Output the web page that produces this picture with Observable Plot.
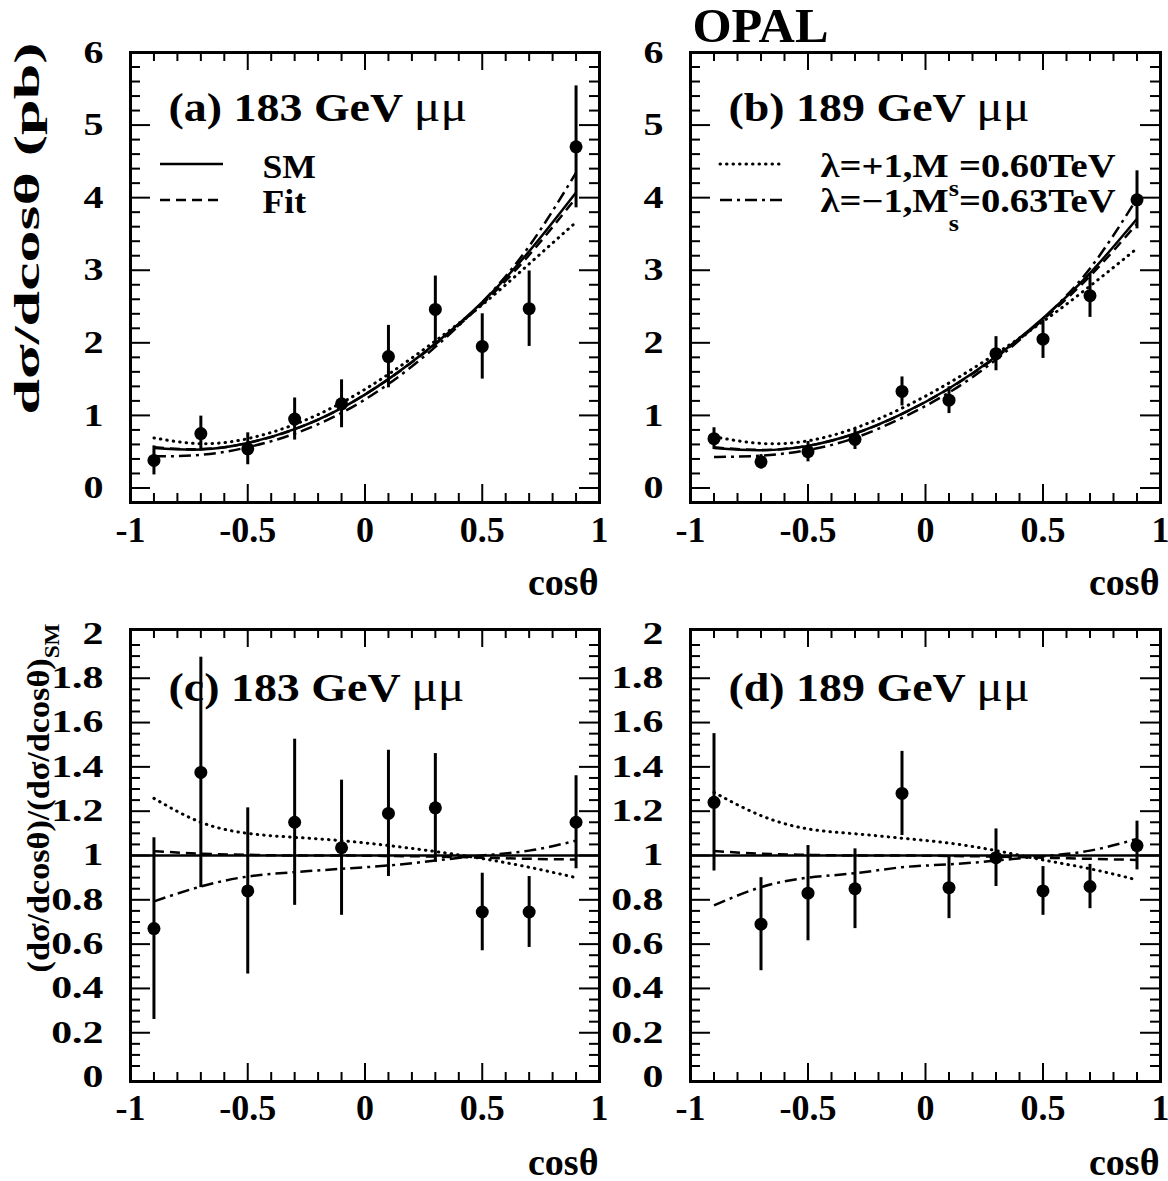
<!DOCTYPE html>
<html><head><meta charset="utf-8">
<script src="https://cdn.jsdelivr.net/npm/d3@7"></script>
<script src="https://cdn.jsdelivr.net/npm/@observablehq/plot@0.6"></script>
<style>
body{margin:0;background:#fff;}
#chart{position:relative;width:1168px;height:1181px;background:#fff;overflow:hidden;}
.panel{position:absolute;}
</style></head><body><div id="chart"></div>
<script>
// ---------------- data ----------------
const cosTheta = [-0.9, -0.7, -0.5, -0.3, -0.1, 0.1, 0.3, 0.5, 0.7, 0.9];

// measured differential cross-sections (pb)
const xs183  = [0.38, 0.75, 0.54, 0.95, 1.16, 1.81, 2.46, 1.95, 2.47, 4.70];
const err183 = [0.20, 0.24, 0.22, 0.29, 0.33, 0.43, 0.46, 0.45, 0.52, 0.84];
const xs189  = [0.68, 0.36, 0.50, 0.67, 1.33, 1.21, 1.85, 2.05, 2.65, 3.97];
const err189 = [0.15, 0.10, 0.14, 0.14, 0.20, 0.185, 0.235, 0.265, 0.30, 0.40];

// curves, 183 GeV
const sm183    = [0.55, 0.53, 0.62, 0.81, 1.10, 1.50, 1.99, 2.56, 3.26, 4.07];
const fit183   = [0.56, 0.535, 0.62, 0.81, 1.10, 1.50, 1.98, 2.535, 3.21, 4.00];
const plus183  = [0.69, 0.61, 0.68, 0.876, 1.174, 1.567, 2.026, 2.524, 3.087, 3.663];
const minus183 = [0.436, 0.456, 0.561, 0.749, 1.034, 1.433, 1.944, 2.56, 3.332, 4.343];
// curves, 189 GeV
const sm189    = [0.55, 0.52, 0.58, 0.75, 1.02, 1.37, 1.81, 2.34, 2.96, 3.71];
const fit189   = [0.56, 0.525, 0.58, 0.75, 1.02, 1.37, 1.80, 2.32, 2.92, 3.64];
const plus189  = [0.707, 0.614, 0.65, 0.824, 1.10, 1.447, 1.85, 2.293, 2.782, 3.30];
const minus189 = [0.426, 0.446, 0.522, 0.69, 0.966, 1.315, 1.768, 2.333, 3.025, 3.988];

// ratios to SM
const r183     = [0.67, 1.375, 0.84, 1.15, 1.035, 1.19, 1.215, 0.745, 0.745, 1.15];
const rerr183  = [0.41, 0.52, 0.375, 0.375, 0.305, 0.285, 0.245, 0.175, 0.16, 0.21];
const r189     = [1.24, 0.69, 0.83, 0.85, 1.28, 0.855, 0.99, 0.84, 0.86, 1.045];
const rerr189  = [0.31, 0.21, 0.215, 0.18, 0.19, 0.14, 0.13, 0.11, 0.10, 0.11];
const rfit183   = [1.02, 1.008, 1.003, 1.0, 1.0, 0.998, 0.995, 0.99, 0.985, 0.982];
const rplus183  = [1.258, 1.15, 1.10, 1.082, 1.067, 1.045, 1.018, 0.986, 0.947, 0.90];
const rminus183 = [0.793, 0.86, 0.905, 0.925, 0.94, 0.955, 0.977, 1.0, 1.022, 1.067];
const rfit189   = [1.02, 1.008, 1.003, 1.0, 1.0, 0.998, 0.995, 0.99, 0.985, 0.98];
const rplus189  = [1.285, 1.18, 1.12, 1.098, 1.078, 1.056, 1.022, 0.98, 0.94, 0.89];
const rminus189 = [0.775, 0.857, 0.9, 0.92, 0.947, 0.96, 0.977, 0.997, 1.022, 1.075];

// axis ticks and labels
const xLabelTicks = [-1, -0.5, 0, 0.5, 1];
const xMajorTicks = [-0.5, 0, 0.5];
const xMinorTicks = [-0.9,-0.8,-0.7,-0.6,-0.4,-0.3,-0.2,-0.1,0.1,0.2,0.3,0.4,0.6,0.7,0.8,0.9];
const yTopLabels = [0, 1, 2, 3, 4, 5, 6];
const yRatioLabels = [0, 0.2, 0.4, 0.6, 0.8, 1, 1.2, 1.4, 1.6, 1.8, 2];

const panelTitles = ["(a) 183 GeV ~{μμ}", "(b) 189 GeV ~{μμ}", "(c) 183 GeV ~{μμ}", "(d) 189 GeV ~{μμ}"];
const legendA = ["SM", "Fit"];
const legendB = ["λ=+1,M_{s}=0.60TeV", "λ=−1,M_{s}=0.63TeV"];
const xTitle = "cosθ";
const yTitleTop = "dσ/dcosθ (pb)";
const yTitleBottom = "(dσ/dcosθ)/(dσ/dcosθ)_{SM}";
const experiment = "OPAL";

// ---------------- styles ----------------
const FONT = '"Liberation Serif","Times New Roman",serif';
const DASH = {sm: null, fit: "10,6", plus: "0.5,6", minus: "12,5,3,5"};
const CAP = {sm: "butt", fit: "butt", plus: "round", minus: "butt"};

function series(ys) { return cosTheta.map((c, i) => ({c, v: ys[i]})); }
function points(ys, es) { return cosTheta.map((c, i) => ({c, v: ys[i], e: es[i]})); }

function panel(cfg) {
  const innerW = cfg.width - cfg.ml - cfg.mr;
  const innerH = cfg.height - cfg.mt - cfg.mb;
  const T = {fontFamily: FONT, fontWeight: "bold", fill: "black"};
  const marks = [];
  for (const cv of cfg.curves) {
    marks.push(Plot.line(series(cv.values), {x: "c", y: "v", curve: "natural", stroke: "black",
      strokeWidth: cv.kind === "plus" ? 3 : 2.5, strokeDasharray: DASH[cv.kind], strokeLinecap: CAP[cv.kind]}));
  }
  if (cfg.unitLine) marks.push(Plot.ruleY([1], {stroke: "black", strokeWidth: 2.5}));
  const pts = points(cfg.values, cfg.errors);
  marks.push(Plot.ruleX(pts, {x: "c", y1: d => d.v - d.e, y2: d => d.v + d.e, stroke: "black", strokeWidth: 3}));
  marks.push(Plot.dot(pts, {x: "c", y: "v", r: 6.5, fill: "black", stroke: "none"}));

  // inside ticks on all four sides
  const tk = 2;
  marks.push(Plot.tickX(xMinorTicks, {x: d => d, insetTop: innerH - 9, strokeWidth: tk}));
  marks.push(Plot.tickX(xMinorTicks, {x: d => d, insetBottom: innerH - 9, strokeWidth: tk}));
  marks.push(Plot.tickX(xMajorTicks, {x: d => d, insetTop: innerH - 18, strokeWidth: tk}));
  marks.push(Plot.tickX(xMajorTicks, {x: d => d, insetBottom: innerH - 18, strokeWidth: tk}));
  marks.push(Plot.tickY(cfg.yMinor, {y: d => d, insetRight: innerW - 10, strokeWidth: tk}));
  marks.push(Plot.tickY(cfg.yMinor, {y: d => d, insetLeft: innerW - 10, strokeWidth: tk}));
  marks.push(Plot.tickY(cfg.yMajor, {y: d => d, insetRight: innerW - 20, strokeWidth: tk}));
  marks.push(Plot.tickY(cfg.yMajor, {y: d => d, insetLeft: innerW - 20, strokeWidth: tk}));
  marks.push(Plot.frame({stroke: "black", strokeWidth: 3}));

  // tick labels
  marks.push(Plot.text(xLabelTicks, {...T, x: d => d, text: d => String(d), frameAnchor: "bottom",
    dy: cfg.xLabelDy, lineAnchor: "bottom", fontSize: 36, ariaDescription: "xtick"}));
  marks.push(Plot.text(cfg.yLabels, {...T, y: d => d, text: d => String(+d.toFixed(1)), frameAnchor: "left",
    dx: -27, textAnchor: "end", lineAnchor: "middle", fontSize: cfg.yTickSize, ariaDescription: cfg.yTickAria}));

  // axis titles
  marks.push(Plot.text([xTitle], {...T, text: d => d, frameAnchor: "bottom-right", textAnchor: "end",
    lineAnchor: "bottom", dx: -1, dy: cfg.xTitleDy, fontSize: 38, ariaDescription: "xtitle"}));
  if (cfg.yTitle) {
    marks.push(Plot.text([cfg.yTitle], {...T, text: d => d, frameAnchor: "top-left", rotate: -90,
      textAnchor: "end", lineAnchor: "bottom", dx: cfg.yTitleDx, dy: cfg.yTitleDy,
      fontSize: cfg.yTitleSize, ariaDescription: cfg.yTitleAria}));
  }
  // panel title
  marks.push(Plot.text([cfg.title], {...T, text: d => d, frameAnchor: "top-left", textAnchor: "start",
    lineAnchor: "bottom", dx: 38, dy: cfg.titleDy, fontSize: 41, ariaDescription: "ptitle"}));

  // legend
  if (cfg.legend) {
    cfg.legend.forEach((lab, i) => {
      marks.push(Plot.text([lab], {...T, text: d => d, frameAnchor: "top-left", textAnchor: "start",
        lineAnchor: "bottom", dx: cfg.legendTextDx, dy: cfg.legendTextDy[i], fontSize: 33, ariaDescription: cfg.legendAria}));
    });
    const kinds = cfg.legendKinds;
    marks.push((index, scales, values, dims) => {
      const g = d3.create("svg:g").attr("stroke", "black").attr("fill", "none");
      kinds.forEach((kind, i) => {
        const y = dims.marginTop + 112 + 36 * i;
        const ln = g.append("line").attr("x1", dims.marginLeft + 30).attr("x2", dims.marginLeft + 93)
          .attr("y1", y).attr("y2", y).attr("stroke-width", kind === "plus" ? 3 : 2.5)
          .attr("stroke-linecap", CAP[kind]);
        if (DASH[kind]) ln.attr("stroke-dasharray", DASH[kind]);
      });
      return g.node();
    });
  }
  if (cfg.experiment) {
    marks.push(Plot.text([cfg.experiment], {...T, text: d => d, frameAnchor: "top-left", textAnchor: "start",
      lineAnchor: "bottom", dx: 2, dy: -11, fontSize: 48, ariaDescription: "experiment"}));
  }

  return Plot.plot({
    width: cfg.width, height: cfg.height,
    marginLeft: cfg.ml, marginRight: cfg.mr, marginTop: cfg.mt, marginBottom: cfg.mb,
    x: {domain: [-1, 1], axis: null},
    y: {domain: cfg.yDomain, axis: null},
    style: {background: "transparent", overflow: "visible", fontFamily: FONT}
  , marks});
}

const isInt = v => Math.abs(v - Math.round(v)) < 1e-6;
const topMinor = d3.range(-0.2, 6.01, 0.2).filter(v => !isInt(v));
const topMajor = yTopLabels;
const botMinor = d3.range(0, 2.001, 0.05).filter(v => !isInt(v / 0.2));
const botMajor = yRatioLabels.filter(v => v > 0 && v < 2);

const common = {
  a: {width: 615, height: 600, ml: 130, mr: 16, mt: 52, mb: 98},
  b: {width: 553, height: 600, ml: 75, mr: 8, mt: 52, mb: 98},
  c: {width: 615, height: 581, ml: 130, mr: 16, mt: 29, mb: 100},
  d: {width: 553, height: 581, ml: 75, mr: 8, mt: 29, mb: 100}
};
const topCfg = {yDomain: [-0.2, 6.0], yMinor: topMinor, yMajor: topMajor, yLabels: yTopLabels,
  yTickAria: "ytick-top", yTickSize: 32, xLabelDy: 39, xTitleDy: 92, titleDy: 68};
const botCfg = {yDomain: [-0.02, 2.02], yMinor: botMinor, yMajor: botMajor, yLabels: yRatioLabels,
  yTickAria: "ytick-bot", yTickSize: 31, xLabelDy: 38, xTitleDy: 93, titleDy: 71, unitLine: true};

const panels = [
  {pos: [0, 0], ...common.a, ...topCfg, title: panelTitles[0], values: xs183, errors: err183,
   curves: [{values: sm183, kind: "sm"}, {values: fit183, kind: "fit"}, {values: plus183, kind: "plus"}, {values: minus183, kind: "minus"}],
   yTitle: yTitleTop, yTitleDx: -92, yTitleDy: -10, yTitleSize: 35, yTitleAria: "ytitle-top",
   legend: legendA, legendKinds: ["sm", "fit"], legendTextDx: 132, legendTextDy: [125, 160], legendAria: "legendA"},
  {pos: [615, 0], ...common.b, ...topCfg, title: panelTitles[1], values: xs189, errors: err189,
   curves: [{values: sm189, kind: "sm"}, {values: fit189, kind: "fit"}, {values: plus189, kind: "plus"}, {values: minus189, kind: "minus"}],
   legend: legendB, legendKinds: ["plus", "minus"], legendTextDx: 130, legendTextDy: [124, 159], legendAria: "legendB",
   experiment: experiment},
  {pos: [0, 600], ...common.c, ...botCfg, title: panelTitles[2], values: r183, errors: rerr183,
   curves: [{values: rfit183, kind: "fit"}, {values: rplus183, kind: "plus"}, {values: rminus183, kind: "minus"}],
   yTitle: yTitleBottom, yTitleDx: -82, yTitleDy: -6, yTitleSize: 32, yTitleAria: "ytitle-bot"},
  {pos: [615, 600], ...common.d, ...botCfg, title: panelTitles[3], values: r189, errors: rerr189,
   curves: [{values: rfit189, kind: "fit"}, {values: rplus189, kind: "plus"}, {values: rminus189, kind: "minus"}]}
];

// rich text: _{sub}, ~{normal weight}
const SVGNS = "http://www.w3.org/2000/svg";
function rich(t, shift) {
  const s = t.textContent;
  if (!/[_~]\{/.test(s)) return;
  const fs = parseFloat(getComputedStyle(t).fontSize) || 30;
  while (t.firstChild) t.removeChild(t.firstChild);
  const re = /([_~])\{([^}]*)\}|([^_~]+)/g;
  let m, down = 0;
  while ((m = re.exec(s))) {
    const ts = document.createElementNS(SVGNS, "tspan");
    if (m[3] !== undefined) {
      ts.textContent = m[3];
      if (down) { ts.setAttribute("dy", -down); down = 0; }
    } else if (m[1] === "_") {
      ts.textContent = m[2];
      ts.setAttribute("font-size", fs * 0.68);
      down = fs * shift;
      ts.setAttribute("dy", down);
    } else {
      ts.textContent = m[2];
      ts.setAttribute("font-weight", "normal");
      ts.setAttribute("font-size", fs * 1.08);
      if (down) { ts.setAttribute("dy", -down); down = 0; }
    }
    t.appendChild(ts);
  }
}
const SHIFT = {legendB: 0.6, "ytitle-bot": 0.32};
const STRETCH = {
  "ytick-top": {factor: 1.25}, "ytick-bot": {factor: 1.35},
  "ytitle-top": {length: 372}, "ytitle-bot": {length: 349},
  "ptitle": {factor: 1.12}, "legendA": {factor: 1.08}, "legendB": {length: 295},
  "experiment": {length: 136}
};

const chart = document.getElementById("chart");
for (const p of panels) {
  const svg = panel(p);
  const div = document.createElement("div");
  div.className = "panel";
  div.style.left = p.pos[0] + "px";
  div.style.top = p.pos[1] + "px";
  div.appendChild(svg);
  chart.appendChild(div);
  svg.querySelectorAll("g").forEach(g => {
    const lab = g.getAttribute("aria-description");
    const texts = Array.from(g.children).filter(e => e.tagName === "text");
    texts.forEach(t => rich(t, (lab && SHIFT[lab]) ?? 0.35));
    const st = lab && STRETCH[lab];
    if (st) texts.forEach(t => {
      const L = st.length ?? t.getComputedTextLength() * st.factor;
      t.setAttribute("lengthAdjust", "spacingAndGlyphs");
      t.setAttribute("textLength", L);
    });
  });
}
</script></body></html>
